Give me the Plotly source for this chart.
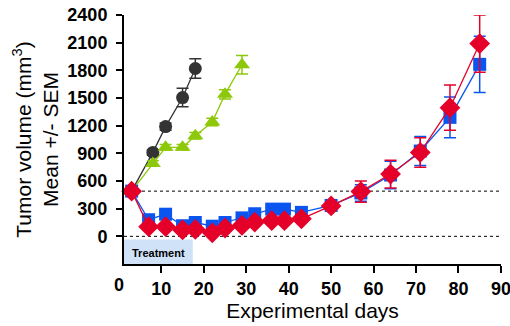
import plotly.graph_objects as go

# ---- data ----
ctrl_days = [3, 8, 11, 15, 18]
ctrl_vals = [490, 910, 1190, 1505, 1820]
ctrl_err = [0, 30, 40, 100, 105]

green_days = [3, 8, 11, 15, 18, 22, 25, 29]
green_vals = [490, 790, 965, 965, 1090, 1240, 1540, 1860]
green_err = [0, 30, 30, 30, 35, 40, 50, 100]

tx_days = [3, 7, 11, 15, 18, 22, 25, 29, 32, 36, 39, 43, 50, 57, 64, 71, 78, 85]
blue_vals = [490, 180, 240, 115, 150, 110, 150, 200, 245, 295, 295, 260, 335, 470, 665, 925, 1290, 1865]
blue_err = [0, 20, 25, 20, 20, 20, 20, 25, 25, 25, 25, 25, 30, 90, 150, 157, 220, 305]
red_vals = [490, 105, 105, 70, 75, 38, 90, 118, 155, 170, 170, 190, 330, 485, 675, 910, 1395, 2090]
red_err = [0, 15, 15, 15, 15, 15, 15, 15, 20, 20, 20, 20, 30, 115, 150, 160, 245, 310]

baseline_level = 490
x_ticks = [10, 20, 30, 40, 50, 60, 70, 80, 90]
y_ticks = [0, 300, 600, 900, 1200, 1500, 1800, 2100, 2400]
treatment_start, treatment_end = 1.2, 17.4
x_max = 90.02

FONT = "Liberation Sans, Arial, sans-serif"

series = [
    (ctrl_days, ctrl_vals, ctrl_err, "#333333", "circle", 13),
    (green_days, green_vals, green_err, "#8DC80A", "triangle-up", 14),
    (tx_days, blue_vals, blue_err, "#0A55F0", "square", 13),
    (tx_days, red_vals, red_err, "#E5002A", "diamond", 16),
]

fig = go.Figure()
for xs, ys, es, col, sym, sz in series:
    fig.add_trace(go.Scatter(
        x=xs, y=ys, mode="lines+markers",
        line=dict(color=col, width=1.3),
        marker=dict(symbol=sym, size=sz, color=col, line=dict(width=0)),
        error_y=dict(type="data", array=es, visible=True, color=col,
                     thickness=1.5, width=6),
        showlegend=False, cliponaxis=False,
    ))

# dashed reference lines
for lvl in [baseline_level, 0]:
    fig.add_shape(type="line", xref="x", yref="y", x0=treatment_start, x1=90,
                  y0=lvl, y1=lvl, line=dict(color="black", width=1, dash="3px,3px"),
                  layer="below")

# treatment box
fig.add_shape(type="rect", xref="x", yref="y", x0=treatment_start, x1=treatment_end,
              y0=-300, y1=-35, fillcolor="#CFE2F8", line=dict(width=0), layer="below")
fig.add_annotation(x=(treatment_start + treatment_end) / 2, y=-185, xref="x", yref="y",
                   text="<b>Treatment</b>", showarrow=False,
                   font=dict(family=FONT, size=11, color="black"))

# "0" label of x axis (left of y-axis line)
x0_paper = (0 - treatment_start) / (x_max - treatment_start)
fig.add_annotation(x=x0_paper, y=0, xref="paper", yref="paper", text="<b>0</b>",
                   showarrow=False, yanchor="top", xanchor="center", yshift=-9,
                   font=dict(family=FONT, size=18, color="black"))

fig.update_layout(
    width=510, height=326,
    margin=dict(l=124, r=9, t=15, b=62),
    paper_bgcolor="white", plot_bgcolor="white",
    font=dict(family=FONT, color="black"),
    xaxis=dict(range=[treatment_start, x_max], tickvals=x_ticks,
               ticktext=[str(v) for v in x_ticks],
               showline=True, linecolor="black", linewidth=2,
               ticks="outside", ticklen=7, tickwidth=2, tickcolor="black",
               tickfont=dict(family=FONT, size=18, weight="bold"),
               ticklabeloverflow="allow",
               showgrid=False, zeroline=False, automargin=False,
               title=dict(text="Experimental days", font=dict(family=FONT, size=21),
                          standoff=4)),
    yaxis=dict(range=[-300, 2400], tickvals=y_ticks,
               showline=True, linecolor="black", linewidth=2,
               ticks="outside", ticklen=6, tickwidth=2, tickcolor="black",
               tickfont=dict(family=FONT, size=18, weight="bold"),
               ticklabelstandoff=5, automargin=False,
               showgrid=False, zeroline=False,
               title=dict(text="Tumor volume (mm<sup>3</sup>)<br>Mean +/- SEM",
                          font=dict(family=FONT, size=21), standoff=3)),
)

fig.write_html("out.html")
